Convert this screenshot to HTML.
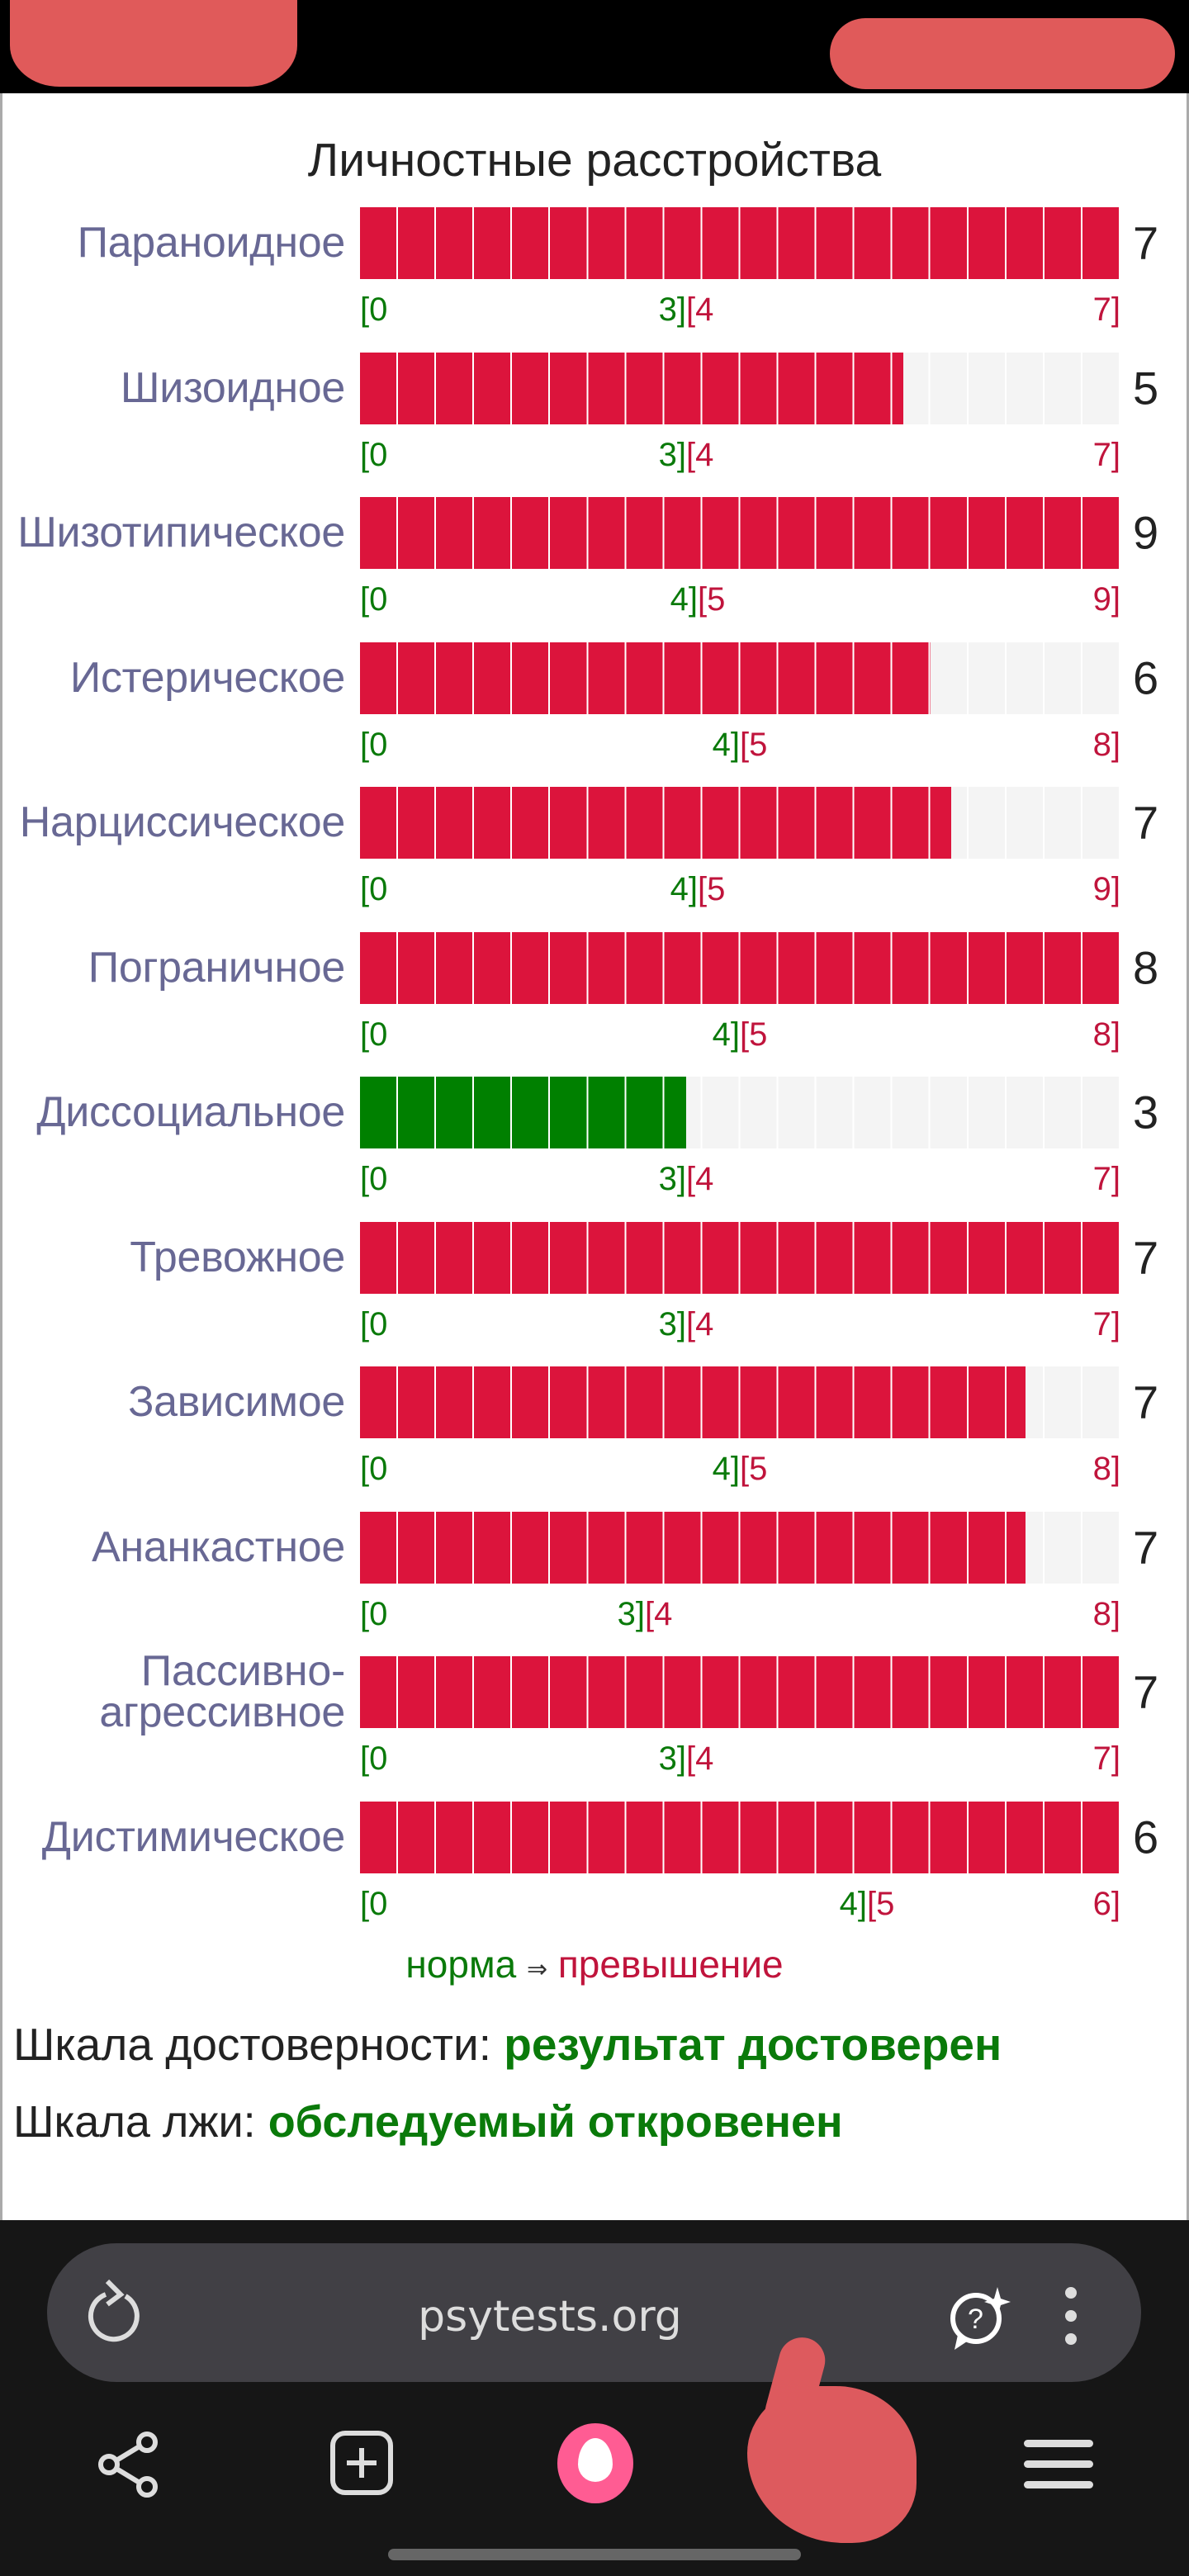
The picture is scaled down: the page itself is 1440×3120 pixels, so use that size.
<!DOCTYPE html>
<html><head><meta charset="utf-8">
<style>
*{margin:0;padding:0;box-sizing:border-box}
body{width:1440px;height:3120px;position:relative;background:#fff;font-family:"Liberation Sans",sans-serif;overflow:hidden}
.a{position:absolute;white-space:nowrap}
.row{position:absolute;left:0;width:1440px;height:160px}
.lab{position:absolute;right:1022px;top:43px;transform:translateY(-50%);font-size:52px;color:#686894;text-align:right;line-height:50px;letter-spacing:-0.3px}
.bar{position:absolute;left:436px;top:0;width:921px;height:87px;background:#f4f4f4}
.fill{position:absolute;left:0;top:0;height:87px;background:#dc143c}
.fill.g{background:#008000}
.sep{position:absolute;left:0;top:0;width:921px;height:87px;background:repeating-linear-gradient(to right,transparent 0 44.05px,#fff 44.05px 46.05px)}
.val{position:absolute;left:1372px;top:43px;transform:translateY(-50%);font-size:56px;color:#222}
.t{position:absolute;top:102px;font-size:40px;line-height:44px}
.gr{color:#0a7a0a}.rd{color:#c0143c}
</style></head><body>
<div class="a" style="left:0;top:0;width:1440px;height:113px;background:#000"></div>
<div class="a" style="left:12px;top:0;width:348px;height:105px;background:#e05a5a;border-radius:0 0 60px 60px/0 0 50px 50px"></div>
<div class="a" style="left:1005px;top:22px;width:418px;height:86px;background:#e05a5a;border-radius:45px"></div>
<div class="a" style="left:0;top:113px;width:3px;height:2576px;background:#aaa"></div>
<div class="a" style="left:1437px;top:113px;width:3px;height:2576px;background:#aaa"></div>

<div class="a" style="left:0;width:1440px;top:161px;text-align:center;font-size:57px;color:#222;line-height:66px">Личностные расстройства</div>

<div class="row" style="top:251px"><div class="lab">Параноидное</div><div class="bar"><div class="fill" style="width:921px"></div><div class="sep"></div></div><div class="val">7</div>
<span class="t gr" style="left:436px">[0</span><span class="t gr" style="right:609px">3]</span><span class="t rd" style="left:831px">[4</span><span class="t rd" style="right:83px">7]</span></div>

<div class="row" style="top:426.5px"><div class="lab">Шизоидное</div><div class="bar"><div class="fill" style="width:658px"></div><div class="sep"></div></div><div class="val">5</div>
<span class="t gr" style="left:436px">[0</span><span class="t gr" style="right:609px">3]</span><span class="t rd" style="left:831px">[4</span><span class="t rd" style="right:83px">7]</span></div>

<div class="row" style="top:602px"><div class="lab">Шизотипическое</div><div class="bar"><div class="fill" style="width:921px"></div><div class="sep"></div></div><div class="val">9</div>
<span class="t gr" style="left:436px">[0</span><span class="t gr" style="right:595px">4]</span><span class="t rd" style="left:845px">[5</span><span class="t rd" style="right:83px">9]</span></div>

<div class="row" style="top:777.5px"><div class="lab">Истерическое</div><div class="bar"><div class="fill" style="width:691px"></div><div class="sep"></div></div><div class="val">6</div>
<span class="t gr" style="left:436px">[0</span><span class="t gr" style="right:544px">4]</span><span class="t rd" style="left:896px">[5</span><span class="t rd" style="right:83px">8]</span></div>

<div class="row" style="top:953px"><div class="lab">Нарциссическое</div><div class="bar"><div class="fill" style="width:716px"></div><div class="sep"></div></div><div class="val">7</div>
<span class="t gr" style="left:436px">[0</span><span class="t gr" style="right:595px">4]</span><span class="t rd" style="left:845px">[5</span><span class="t rd" style="right:83px">9]</span></div>

<div class="row" style="top:1128.5px"><div class="lab">Пограничное</div><div class="bar"><div class="fill" style="width:921px"></div><div class="sep"></div></div><div class="val">8</div>
<span class="t gr" style="left:436px">[0</span><span class="t gr" style="right:544px">4]</span><span class="t rd" style="left:896px">[5</span><span class="t rd" style="right:83px">8]</span></div>

<div class="row" style="top:1304px"><div class="lab">Диссоциальное</div><div class="bar"><div class="fill g" style="width:395px"></div><div class="sep"></div></div><div class="val">3</div>
<span class="t gr" style="left:436px">[0</span><span class="t gr" style="right:609px">3]</span><span class="t rd" style="left:831px">[4</span><span class="t rd" style="right:83px">7]</span></div>

<div class="row" style="top:1479.5px"><div class="lab">Тревожное</div><div class="bar"><div class="fill" style="width:921px"></div><div class="sep"></div></div><div class="val">7</div>
<span class="t gr" style="left:436px">[0</span><span class="t gr" style="right:609px">3]</span><span class="t rd" style="left:831px">[4</span><span class="t rd" style="right:83px">7]</span></div>

<div class="row" style="top:1655px"><div class="lab">Зависимое</div><div class="bar"><div class="fill" style="width:806px"></div><div class="sep"></div></div><div class="val">7</div>
<span class="t gr" style="left:436px">[0</span><span class="t gr" style="right:544px">4]</span><span class="t rd" style="left:896px">[5</span><span class="t rd" style="right:83px">8]</span></div>

<div class="row" style="top:1830.5px"><div class="lab">Ананкастное</div><div class="bar"><div class="fill" style="width:806px"></div><div class="sep"></div></div><div class="val">7</div>
<span class="t gr" style="left:436px">[0</span><span class="t gr" style="right:659px">3]</span><span class="t rd" style="left:781px">[4</span><span class="t rd" style="right:83px">8]</span></div>

<div class="row" style="top:2006px"><div class="lab">Пассивно-<br>агрессивное</div><div class="bar"><div class="fill" style="width:921px"></div><div class="sep"></div></div><div class="val">7</div>
<span class="t gr" style="left:436px">[0</span><span class="t gr" style="right:609px">3]</span><span class="t rd" style="left:831px">[4</span><span class="t rd" style="right:83px">7]</span></div>

<div class="row" style="top:2181.5px"><div class="lab">Дистимическое</div><div class="bar"><div class="fill" style="width:921px"></div><div class="sep"></div></div><div class="val">6</div>
<span class="t gr" style="left:436px">[0</span><span class="t gr" style="right:390px">4]</span><span class="t rd" style="left:1050px">[5</span><span class="t rd" style="right:83px">6]</span></div>

<div class="a" style="left:0;width:1440px;top:2352px;text-align:center;font-size:46px;line-height:54px"><span class="gr">норма</span> <span style="color:#333;font-size:30px">⇒</span> <span class="rd">превышение</span></div>

<div class="a" style="left:16px;top:2444px;font-size:55px;line-height:64px;color:#222">Шкала достоверности: <b style="color:#0a7a0a">результат достоверен</b></div>
<div class="a" style="left:16px;top:2538px;font-size:54px;line-height:64px;color:#222">Шкала лжи: <b style="color:#0a7a0a">обследуемый откровенен</b></div>

<div class="a" style="left:0;top:2689px;width:1440px;height:431px;background:#161616"></div>
<div class="a" style="left:57px;top:2717px;width:1325px;height:168px;background:#414045;border-radius:84px"></div>
<div class="a" style="left:0;width:1332px;top:2776px;text-align:center;font-size:52px;line-height:60px;color:#ddd;font-family:'DejaVu Sans',sans-serif">psytests.org</div>
<svg class="a" style="left:100px;top:2755px" width="80" height="90" viewBox="0 0 80 90"><path d="M52 26 A28 28 0 1 1 28 24" fill="none" stroke="#ddd" stroke-width="6"/><path d="M30 8 L46 24 L30 36" fill="none" stroke="#ddd" stroke-width="6"/></svg>
<svg class="a" style="left:1140px;top:2762px" width="90" height="90" viewBox="0 0 90 90"><circle cx="42" cy="46" r="28" fill="none" stroke="#fff" stroke-width="6"/><path d="M20 66 L16 84 L34 72" fill="#fff"/><text x="32" y="58" font-size="34" fill="#fff" font-family="Liberation Sans">?</text><path d="M68 8 L72 22 L84 26 L72 30 L68 44 L64 30 L52 26 L64 22Z" fill="#fff"/></svg>
<div class="a" style="left:1290px;top:2770px;width:14px;height:14px;border-radius:7px;background:#ddd"></div>
<div class="a" style="left:1290px;top:2798px;width:14px;height:14px;border-radius:7px;background:#ddd"></div>
<div class="a" style="left:1290px;top:2826px;width:14px;height:14px;border-radius:7px;background:#ddd"></div>

<svg class="a" style="left:110px;top:2940px" width="90" height="90" viewBox="0 0 90 90"><circle cx="68" cy="18" r="10" fill="none" stroke="#ddd" stroke-width="6"/><circle cx="22" cy="45" r="10" fill="none" stroke="#ddd" stroke-width="6"/><circle cx="68" cy="72" r="10" fill="none" stroke="#ddd" stroke-width="6"/><path d="M31 40 L59 23 M31 50 L59 67" stroke="#ddd" stroke-width="6"/></svg>
<div class="a" style="left:400px;top:2944px;width:76px;height:78px;border:6px solid #ddd;border-radius:18px"></div>
<div class="a" style="left:420px;top:2980px;width:36px;height:6px;background:#ddd"></div>
<div class="a" style="left:435px;top:2965px;width:6px;height:36px;background:#ddd"></div>
<div class="a" style="left:675px;top:2935px;width:92px;height:97px;border-radius:50%;background:#ff5c93"></div>
<div class="a" style="left:700px;top:2953px;width:42px;height:53px;border-radius:50% 50% 50% 50%/60% 60% 40% 40%;background:#fff"></div>
<div class="a" style="left:905px;top:2890px;width:205px;height:190px;border-radius:45% 50% 40% 60%;background:#dd5a5e"></div>
<div class="a" style="left:935px;top:2830px;width:56px;height:120px;border-radius:30px;background:#dd5a5e;transform:rotate(15deg)"></div>
<div class="a" style="left:1240px;top:2955px;width:84px;height:9px;border-radius:5px;background:#ddd"></div>
<div class="a" style="left:1240px;top:2980px;width:84px;height:9px;border-radius:5px;background:#ddd"></div>
<div class="a" style="left:1240px;top:3005px;width:84px;height:9px;border-radius:5px;background:#ddd"></div>
<div class="a" style="left:470px;top:3087px;width:500px;height:14px;border-radius:7px;background:#666"></div>
</body></html>
